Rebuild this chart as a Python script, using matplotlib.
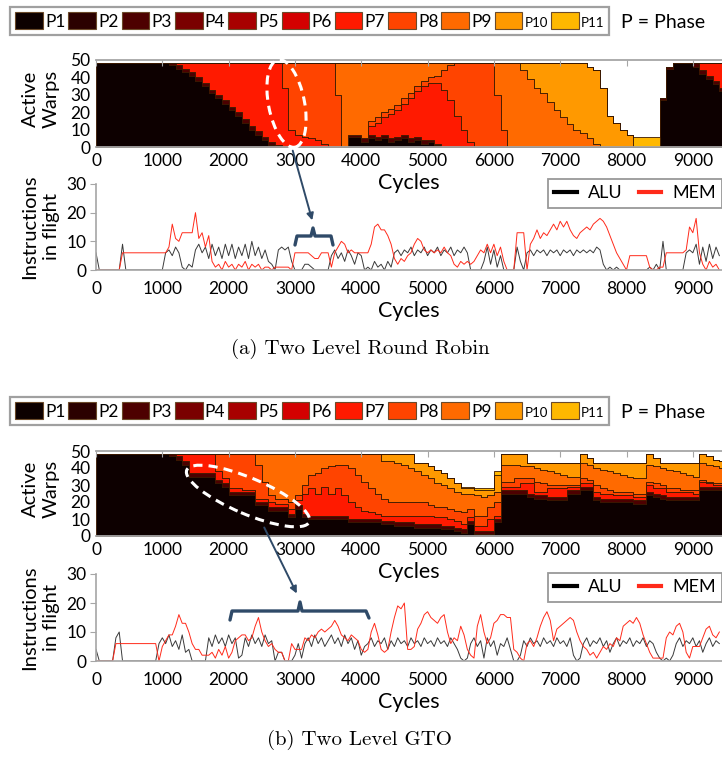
import numpy as np
import matplotlib
matplotlib.use('Agg')
import matplotlib.pyplot as plt
from matplotlib.patches import Patch, Ellipse, FancyArrowPatch
from matplotlib.lines import Line2D

plt.rcParams['font.family'] = ['Lato', 'DejaVu Sans']

phase_names = ['P1', 'P2', 'P3', 'P4', 'P5', 'P6', 'P7', 'P8', 'P9', 'P10', 'P11']
phase_colors = ['#0d0000', '#2b0000', '#4d0000', '#7a0000', '#a80000', '#d40000',
                '#ff1a00', '#ff4400', '#ff6a00', '#ff9900', '#ffb800']

# stacked phase chart: upper boundary of each phase, every 100 cycles (0..9400)
cycles = np.arange(0, 9500, 100)

# ---- (a) Two Level Round Robin ----
rr_p1 = [48]*10 + \
    [48, 47, 45, 43, 41, 38, 35, 31, 28, 25] + \
    [21, 18, 14, 10, 7, 4, 1, 0, 0, 0] + \
    [0, 0, 0, 0, 0, 0, 0, 0, 6, 6] + \
    [3, 5, 4, 5, 3, 4, 5, 3, 4, 2] + \
    [3, 1, 0, 0, 0, 0, 0, 0, 0, 0] + \
    [0]*10 + [0]*10 + \
    [0, 0, 0, 0, 0, 27, 45, 48, 48, 48] + \
    [46, 42, 39, 36, 32]
rr_p3 = [48]*10 + \
    [48, 48, 47, 45, 43, 40, 37, 33, 30, 27] + \
    [23, 20, 16, 12, 9, 6, 3, 1, 0, 0] + \
    [0, 0, 0, 0, 0, 0, 0, 0, 7, 7] + \
    [5, 7, 6, 7, 5, 6, 7, 5, 6, 4] + \
    [4, 2, 0, 0, 0, 0, 0, 0, 0, 0] + \
    [0]*10 + [0]*10 + \
    [0, 0, 0, 0, 0, 28, 46, 48, 48, 48] + \
    [48, 44, 41, 38, 34]
rr_p7 = [48]*10 + [48]*10 + \
    [48, 48, 48, 48, 48, 48, 48, 48, 34, 10] + \
    [7, 6, 5, 4, 2, 0, 0, 0, 7, 7] + \
    [5, 12, 14, 17, 19, 21, 25, 28, 32, 35] + \
    [37, 37, 33, 27, 18, 10, 3, 0, 0, 0] + \
    [0]*10 + [0]*10 + \
    [0, 0, 0, 0, 0, 28, 46, 48, 48, 48] + \
    [48]*5
rr_p8 = [48]*10 + [48]*10 + [48]*10 + \
    [48, 48, 48, 48, 48, 48, 30, 0, 7, 7] + \
    [5, 15, 17, 20, 22, 24, 28, 31, 35, 38] + \
    [40, 41, 44, 47, 48, 48, 48, 48, 48, 48] + \
    [30, 10, 0, 0, 0, 0, 0, 0, 0, 0] + \
    [0]*10 + \
    [0, 0, 0, 0, 0, 28, 46, 48, 48, 48] + \
    [48]*5
rr_p9 = [48]*10 + [48]*10 + [48]*10 + [48]*10 + [48]*10 + [48]*10 + \
    [48, 48, 48, 48, 44, 39, 34, 31, 26, 21] + \
    [17, 13, 10, 8, 5, 2, 0, 0, 0, 0] + \
    [0, 0, 0, 0, 0, 28, 46, 48, 48, 48] + \
    [48]*5
rr_p10 = [48]*10 + [48]*10 + [48]*10 + [48]*10 + [48]*10 + [48]*10 + [48]*10 + \
    [48, 48, 48, 48, 46, 44, 34, 18, 14, 10] + \
    [7, 0, 0, 0, 0, 28, 46, 48, 48, 48] + \
    [48]*5
rr_p11 = [48]*10 + [48]*10 + [48]*10 + [48]*10 + [48]*10 + [48]*10 + [48]*10 + \
    [48, 48, 48, 48, 46, 44, 34, 18, 14, 10] + \
    [7, 6, 6, 6, 6, 28, 46, 48, 48, 48] + \
    [48]*5
rr_tops = [rr_p1, rr_p1, rr_p3, rr_p3, rr_p3, rr_p3, rr_p7, rr_p8, rr_p9, rr_p10, rr_p11]

# ---- (b) Two Level GTO ----
gto_p1 = [48]*10 + \
    [48, 47, 45, 42, 35, 35, 35, 35, 31, 29] + \
    [24, 24, 24, 24, 18, 18, 15, 15, 15, 11] + \
    [16, 11, 10, 10, 10, 10, 10, 10, 8, 8] + \
    [8, 8, 8, 7, 7, 6, 6, 6, 5, 5] + \
    [5, 5, 4, 4, 3, 2, 7, 1, 1, 1] + \
    [8, 25, 25, 25, 25, 23, 22, 22, 21, 21] + \
    [21, 25, 25, 27, 27, 21, 20, 20, 20, 20] + \
    [20, 19, 19, 24, 23, 22, 21, 21, 21, 21] + \
    [21, 27, 27, 27, 27]
gto_p3 = [48]*10 + \
    [48, 48, 47, 44, 37, 37, 37, 37, 33, 31] + \
    [26, 26, 26, 26, 20, 20, 17, 17, 17, 13] + \
    [18, 13, 12, 12, 12, 12, 12, 12, 10, 10] + \
    [10, 10, 10, 9, 9, 8, 8, 8, 7, 7] + \
    [7, 7, 6, 6, 5, 4, 9, 3, 3, 3] + \
    [10, 27, 27, 27, 27, 25, 24, 24, 23, 23] + \
    [23, 27, 27, 29, 29, 23, 22, 22, 22, 22] + \
    [22, 21, 21, 26, 25, 24, 23, 23, 23, 23] + \
    [23, 29, 29, 29, 29]
gto_p7 = [48]*10 + \
    [48, 48, 48, 48, 48, 48, 48, 48, 38, 34] + \
    [28, 28, 27, 27, 22, 22, 20, 19, 19, 16] + \
    [21, 25, 28, 25, 29, 25, 28, 24, 20, 17] + \
    [15, 14, 13, 12, 12, 12, 12, 12, 12, 12] + \
    [12, 11, 11, 10, 9, 7, 11, 6, 6, 10] + \
    [12, 29, 29, 29, 31, 31, 26, 26, 28, 28] + \
    [28, 29, 29, 31, 31, 26, 25, 25, 24, 24] + \
    [24, 23, 23, 30, 28, 28, 26, 26, 26, 26] + \
    [25, 32, 31, 30, 30]
gto_p8 = [48]*10 + [48]*10 + \
    [48, 48, 48, 48, 42, 32, 24, 22, 22, 20] + \
    [24, 30, 36, 37, 40, 41, 42, 42, 40, 36] + \
    [32, 28, 25, 22, 20, 20, 20, 20, 20, 20] + \
    [18, 17, 17, 16, 15, 14, 16, 12, 12, 17] + \
    [20, 32, 32, 34, 34, 34, 32, 31, 30, 30] + \
    [30, 30, 30, 34, 33, 30, 28, 27, 26, 26] + \
    [26, 25, 25, 32, 31, 30, 28, 28, 27, 27] + \
    [27, 33, 32, 31, 31]
gto_p9 = [48]*10 + [48]*10 + [48]*10 + [48]*10 + \
    [48, 48, 48, 44, 44, 43, 42, 40, 38, 36] + \
    [34, 31, 30, 28, 26, 25, 25, 24, 23, 24] + \
    [26, 42, 42, 42, 41, 41, 40, 39, 38, 37] + \
    [36, 35, 35, 43, 42, 40, 39, 38, 37, 36] + \
    [35, 34, 34, 42, 41, 40, 39, 38, 37, 36] + \
    [35, 43, 42, 41, 40]
gto_p10 = [48]*10 + [48]*10 + [48]*10 + [48]*10 + \
    [48, 48, 48, 48, 48, 48, 48, 48, 43, 43] + \
    [41, 39, 37, 34, 31, 28, 28, 27, 27, 27] + \
    [36, 48, 48, 48, 48, 43, 43, 43, 43, 43] + \
    [43, 43, 43, 48, 46, 43, 43, 43, 43, 43] + \
    [43, 43, 43, 48, 46, 43, 43, 43, 43, 43] + \
    [43, 48, 47, 45, 44]
gto_p11 = [48]*10 + [48]*10 + [48]*10 + [48]*10 + \
    [48, 48, 48, 48, 48, 48, 48, 48, 43, 43] + \
    [41, 39, 37, 34, 31, 29, 29, 28, 28, 28] + \
    [38, 48, 48, 48, 48, 43, 43, 43, 43, 43] + \
    [43, 43, 43, 48, 46, 43, 43, 43, 43, 43] + \
    [43, 43, 43, 48, 46, 43, 43, 43, 43, 43] + \
    [43, 48, 47, 45, 44]
gto_tops = [gto_p1, gto_p1, gto_p3, gto_p3, gto_p3, gto_p3, gto_p7, gto_p8, gto_p9, gto_p10, gto_p11]

# instructions in flight, every 50 cycles (0..9400)
icycles = np.arange(0, 9450, 50)
rr_alu = [6, 0, 0, 0, 0, 0, 0, 0, 9, 0,
          0, 0, 0, 0, 0, 0, 0, 0, 0, 0,
          0, 6, 7, 5, 8, 6, 1, 0, 2, 1,
          7, 9, 6, 8, 4, 9, 5, 8, 4, 9,
          5, 9, 4, 8, 5, 9, 4, 10, 5, 8,
          4, 7, 3, 2, 0, 7, 8, 7, 8, 3,
          0, 0, 0, 2, 2, 1, 0, 0, 0, 0,
          0, 5, 7, 4, 6, 3, 7, 5, 2, 6,
          5, 0, 1, 0, 3, 1, 2, 0, 3, 1,
          6, 7, 5, 7, 6, 8, 5, 7, 6, 8,
          5, 7, 6, 8, 5, 7, 6, 8, 5, 7,
          6, 8, 6, 0, 0, 0, 0, 3, 8, 2,
          7, 1, 5, 0, 0, 0, 0, 8, 3, 0,
          6, 7, 5, 7, 6, 7, 5, 7, 6, 7,
          5, 7, 6, 7, 5, 7, 6, 7, 6, 7,
          6, 8, 7, 2, 0, 1, 0, 1, 0, 0,
          0, 0, 0, 0, 0, 0, 0, 1, 0, 2,
          0, 10, 0, 0, 0, 0, 0, 0, 6, 7,
          6, 9, 2, 8, 3, 9, 4, 8, 5]
rr_mem = [0, 0, 0, 0, 0, 0, 0, 0, 6, 6,
          6, 6, 6, 6, 6, 6, 6, 6, 6, 6,
          6, 6, 8, 16, 11, 10, 13, 13, 13, 13,
          20, 11, 13, 8, 12, 3, 1, 2, 0, 3,
          1, 2, 0, 2, 1, 3, 0, 2, 1, 2,
          0, 1, 1, 0, 1, 1, 1, 1, 1, 0,
          6, 6, 6, 6, 6, 5, 4, 4, 6, 6,
          6, 1, 6, 8, 10, 9, 6, 7, 6, 6,
          6, 6, 6, 9, 15, 16, 14, 14, 12, 9,
          4, 2, 4, 3, 5, 6, 9, 11, 10, 7,
          6, 7, 6, 7, 6, 8, 6, 5, 2, 1,
          3, 2, 3, 2, 3, 5, 7, 6, 9, 6,
          9, 5, 8, 3, 0, 0, 0, 13, 13, 13,
          0, 9, 11, 14, 11, 13, 12, 14, 16, 14,
          17, 15, 17, 14, 12, 11, 13, 14, 15, 14,
          16, 17, 18, 17, 15, 12, 9, 6, 4, 2,
          0, 5, 5, 5, 5, 5, 5, 1, 0, 0,
          1, 1, 6, 6, 6, 6, 6, 6, 7, 15,
          13, 18, 6, 2, 0, 3, 1, 2, 0]
gto_alu = [4, 0, 0, 0, 0, 0, 8, 10, 0, 0,
           0, 0, 0, 0, 0, 0, 0, 0, 0, 6,
           8, 6, 9, 5, 7, 4, 9, 3, 4, 0,
           0, 0, 0, 0, 8, 5, 9, 6, 8, 5,
           9, 6, 8, 1, 2, 8, 5, 9, 6, 8,
           5, 9, 6, 7, 0, 3, 3, 0, 0, 0,
           2, 6, 1, 6, 8, 5, 9, 6, 8, 5,
           7, 9, 6, 8, 5, 9, 6, 8, 4, 7,
           2, 5, 6, 8, 5, 7, 6, 8, 4, 7,
           5, 8, 6, 7, 5, 8, 6, 7, 5, 8,
           6, 7, 5, 8, 6, 7, 5, 8, 6, 4,
           1, 0, 1, 6, 8, 5, 7, 1, 8, 5,
           7, 2, 6, 5, 8, 4, 0, 0, 2, 7,
           5, 8, 6, 7, 5, 8, 6, 7, 5, 8,
           6, 7, 5, 8, 2, 0, 1, 6, 8, 5,
           7, 6, 8, 5, 7, 3, 6, 8, 5, 7,
           6, 8, 5, 7, 6, 8, 5, 7, 6, 3,
           1, 0, 1, 0, 2, 6, 8, 5, 7, 6,
           8, 5, 7, 3, 6, 8, 5, 7, 6]
gto_mem = [0, 0, 0, 0, 0, 0, 6, 6, 6, 6,
           6, 6, 6, 6, 6, 6, 6, 6, 6, 0,
           5, 7, 9, 9, 12, 16, 13, 13, 10, 6,
           4, 4, 2, 2, 2, 3, 1, 4, 2, 5,
           1, 3, 7, 8, 9, 9, 7, 8, 12, 15,
           10, 7, 5, 6, 4, 3, 3, 0, 0, 6,
           4, 4, 4, 8, 7, 9, 8, 10, 11, 10,
           11, 12, 14, 12, 9, 8, 7, 9, 8, 7,
           4, 3, 4, 10, 13, 9, 4, 3, 4, 10,
           15, 19, 18, 20, 4, 4, 5, 11, 13, 16,
           17, 15, 14, 13, 15, 16, 10, 6, 8, 7,
           12, 9, 4, 2, 1, 12, 16, 10, 6, 8,
           13, 14, 16, 16, 15, 15, 4, 3, 1, 0,
           6, 7, 5, 8, 12, 15, 17, 14, 7, 11,
           12, 13, 14, 15, 14, 10, 7, 5, 4, 2,
           3, 1, 3, 5, 4, 6, 5, 8, 7, 12,
           13, 14, 13, 15, 13, 9, 6, 3, 1, 1,
           1, 1, 8, 10, 9, 12, 13, 10, 3, 1,
           5, 5, 5, 8, 11, 12, 9, 8, 10]

W, H = 722, 757
fig = plt.figure(figsize=(W / 100, H / 100), dpi=100)
XMAX = 9440
GRAY = '#a6a6a6'
ARROW = '#2f4a68'


def rect(left, top, right, bottom):
    return [left / W, 1 - bottom / H, (right - left) / W, (bottom - top) / H]


def draw_phases(ax, tops):
    stack = np.maximum.accumulate(np.array(tops, dtype=float), axis=0)
    thick = np.diff(np.vstack([np.zeros(len(cycles)), stack]), axis=0)
    x = np.append(cycles, cycles[-1] + 100)
    thick = np.hstack([thick, thick[:, -1:]])
    ax.stackplot(x, thick, colors=phase_colors, step='post',
                 edgecolor='#3a1800', linewidth=0.6)
    ax.set_xlim(0, XMAX)
    ax.set_ylim(0, 50)
    ax.set_xticks(range(0, 9001, 1000))
    ax.set_yticks(range(0, 51, 10))
    ax.tick_params(axis='y', length=0, labelsize=12.5, pad=4)
    ax.tick_params(axis='x', bottom=False, top=True, direction='in', length=4,
                   color=GRAY, labelsize=12.5, pad=4)
    for s in ['left', 'right']:
        ax.spines[s].set_visible(False)
    for s in ['top', 'bottom']:
        ax.spines[s].set_color(GRAY)
        ax.spines[s].set_linewidth(1.3)
    ax.set_xlabel('Cycles', fontsize=15.5, labelpad=3)
    ax.set_ylabel('Active\nWarps', fontsize=14.5, linespacing=1.3)
    ax.yaxis.set_label_coords(-0.058, 0.55)


def draw_inflight(ax, alu, mem, leg_y):
    ax.patch.set_alpha(0)
    ax.plot(icycles, alu, color='#3a3a3a', lw=0.7)
    ax.plot(icycles, mem, color='#ff2a1a', lw=0.7)
    ax.set_xlim(0, XMAX)
    ax.set_ylim(0, 30)
    ax.set_xticks(range(0, 9001, 1000))
    ax.set_yticks(range(0, 31, 10))
    ax.tick_params(axis='y', length=4, color=GRAY, labelsize=12.5, pad=3)
    ax.tick_params(axis='x', length=0, labelsize=12.5, pad=8)
    for s in ['top', 'right']:
        ax.spines[s].set_visible(False)
    for s in ['left', 'bottom']:
        ax.spines[s].set_color(GRAY)
        ax.spines[s].set_linewidth(1.2)
    ax.set_xlabel('Cycles', fontsize=15.5, labelpad=3)
    ax.set_ylabel('Instructions\nin flight', fontsize=14.5, linespacing=1.3)
    ax.yaxis.set_label_coords(-0.058, 0.5)
    handles = [Line2D([], [], color='black', lw=3), Line2D([], [], color='#ff2a1a', lw=3)]
    leg = ax.legend(handles, ['ALU', 'MEM'], loc='upper right', bbox_to_anchor=(1.0, leg_y),
                    ncol=2, fontsize=13, handlelength=1.25, handletextpad=0.6,
                    columnspacing=0.9, borderpad=0.35, borderaxespad=0, fancybox=False,
                    framealpha=1, edgecolor='#999999')
    leg.get_frame().set_linewidth(1.3)


def phase_legend(top):
    handles = [Patch(facecolor=c, edgecolor='#6b4a2a', linewidth=0.8) for c in phase_colors]
    leg = fig.legend(handles, phase_names, loc='upper left',
                     bbox_to_anchor=(10 / W, 1 - top / H), ncol=11, fontsize=12.5,
                     handlelength=1.6, handleheight=1.15, handletextpad=0.12,
                     columnspacing=0.17, borderpad=0.3, borderaxespad=0,
                     fancybox=False, framealpha=1, edgecolor='#a0a0a0')
    leg.get_frame().set_linewidth(1.6)
    for t in leg.get_texts()[9:]:
        t.set_fontsize(9.5)
    fig.text(621 / W, 1 - (top + 15) / H, 'P = Phase', fontsize=14, va='center')


def px(x, y):
    return (x / 100, (H - y) / 100)


def annotate(ell_c, ell_w, ell_h, ell_a, arr_a, arr_b, brace):
    tr = fig.dpi_scale_trans
    fig.add_artist(Ellipse(px(*ell_c), ell_w / 100, ell_h / 100, angle=ell_a, transform=tr,
                           fill=False, edgecolor='white', lw=2.2, linestyle=(0, (3, 2))))
    fig.add_artist(FancyArrowPatch(px(*arr_a), px(*arr_b), transform=tr, arrowstyle='-|>',
                                   mutation_scale=10, color=ARROW, lw=1.4))
    bx = [p[0] / 100 for p in brace]
    by = [(H - p[1]) / 100 for p in brace]
    fig.add_artist(Line2D(bx, by, transform=tr, color=ARROW, lw=2.4,
                          solid_joinstyle='round', solid_capstyle='round'))


ax1 = fig.add_axes(rect(96, 60, 722, 147))
draw_phases(ax1, rr_tops)
ax2 = fig.add_axes(rect(96, 184, 722, 270))
draw_inflight(ax2, rr_alu, rr_mem, (270 - 179) / 86)
ax3 = fig.add_axes(rect(96, 451, 722, 536))
draw_phases(ax3, gto_tops)
ax4 = fig.add_axes(rect(96, 574, 722, 661))
draw_inflight(ax4, gto_alu, gto_mem, (661 - 573) / 87)

phase_legend(7)
phase_legend(397)

annotate((286.5, 103.5), 36, 89, 11, (292, 148), (313, 223),
         [(295, 245), (297, 236), (311, 236), (313, 228), (315, 236), (331, 236), (333, 245)])
annotate((248, 496), 133, 36, -23, (263, 525), (298, 596),
         [(230, 620), (232, 611), (298, 611), (300, 602), (302, 611), (366, 611), (369, 618)])

fig.text(360 / W, 1 - 349 / H, '(a) Two Level Round Robin', fontfamily='cmr10',
         fontsize=15, ha='center', va='center')
fig.text(359 / W, 1 - 740 / H, '(b) Two Level GTO', fontfamily='cmr10',
         fontsize=15, ha='center', va='center')

fig.savefig('out.png', dpi=100)
